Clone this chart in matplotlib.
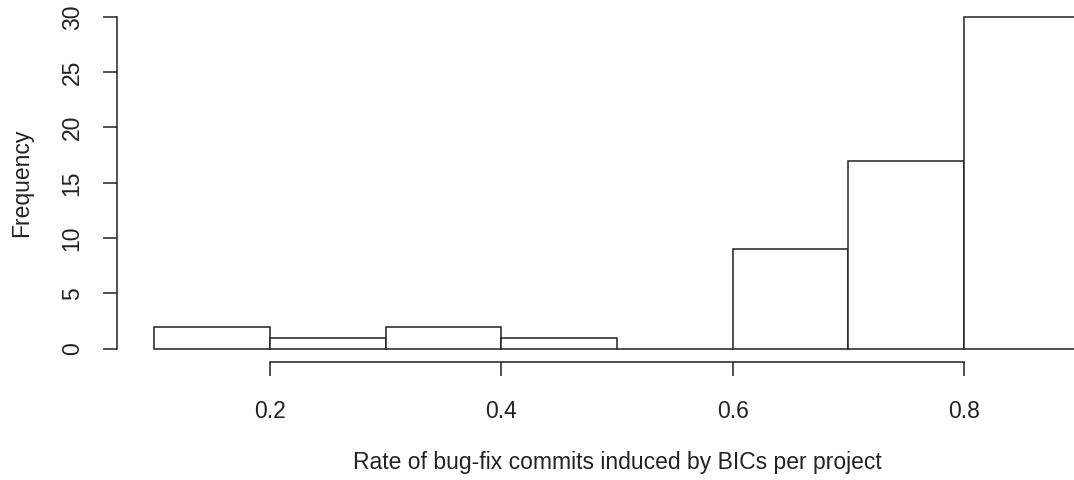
import matplotlib
matplotlib.use("Agg")
import matplotlib.pyplot as plt
import numpy as np

plt.rcParams['font.family'] = ['Liberation Sans', 'DejaVu Sans']

# histogram bins (rate of bug-fix commits induced by BICs) and project counts
bin_edges = [0.1, 0.2, 0.3, 0.4, 0.5, 0.6, 0.7, 0.8, 0.9]
counts = [2, 1, 2, 1, 0, 9, 17, 30]
x_ticks = [0.2, 0.4, 0.6, 0.8]
y_ticks = [0, 5, 10, 15, 20, 25, 30]

W, H = 1074, 480
fig = plt.figure(figsize=(W / 100, H / 100), dpi=100)
fig.patch.set_facecolor('white')

# plot region like R: 4% padding on both axes; right side runs off the canvas
left, right = 117, 1117
top, bottom = 3.6, 362
ax = fig.add_axes([left / W, 1 - bottom / H, (right - left) / W, (bottom - top) / H])

edges = np.array(bin_edges)
ax.bar(edges[:-1], counts, width=np.diff(edges), align='edge',
       facecolor='white', edgecolor='#222222', linewidth=1.1)

ax.set_xlim(0.068, 0.932)
ax.set_ylim(-1.2, 31.2)

for s in ['top', 'right']:
    ax.spines[s].set_visible(False)
ax.spines['left'].set_bounds(0, 30)
ax.spines['bottom'].set_bounds(0.2, 0.8)
for s in ['left', 'bottom']:
    ax.spines[s].set_linewidth(1.1)
    ax.spines[s].set_color('#222222')

fs = 16.5
ax.set_xticks(x_ticks)
ax.set_xticklabels([f'{v:.1f}' for v in x_ticks])
ax.set_yticks(y_ticks)
ax.set_yticklabels([str(v) for v in y_ticks], rotation=90, va='center')
ax.tick_params(axis='both', length=10, width=1.1, color='#222222',
               labelsize=fs, labelcolor='#222222')
ax.tick_params(axis='x', pad=17)
ax.tick_params(axis='y', pad=14)

fig.text(617 / W, 1 - 463 / H, 'Rate of bug-fix commits induced by BICs per project',
         ha='center', va='center', fontsize=fs, color='#222222')
fig.text(22 / W, 1 - 183 / H, 'Frequency', rotation=90,
         ha='center', va='center', fontsize=fs, color='#222222')

fig.savefig('out.png', dpi=100)
